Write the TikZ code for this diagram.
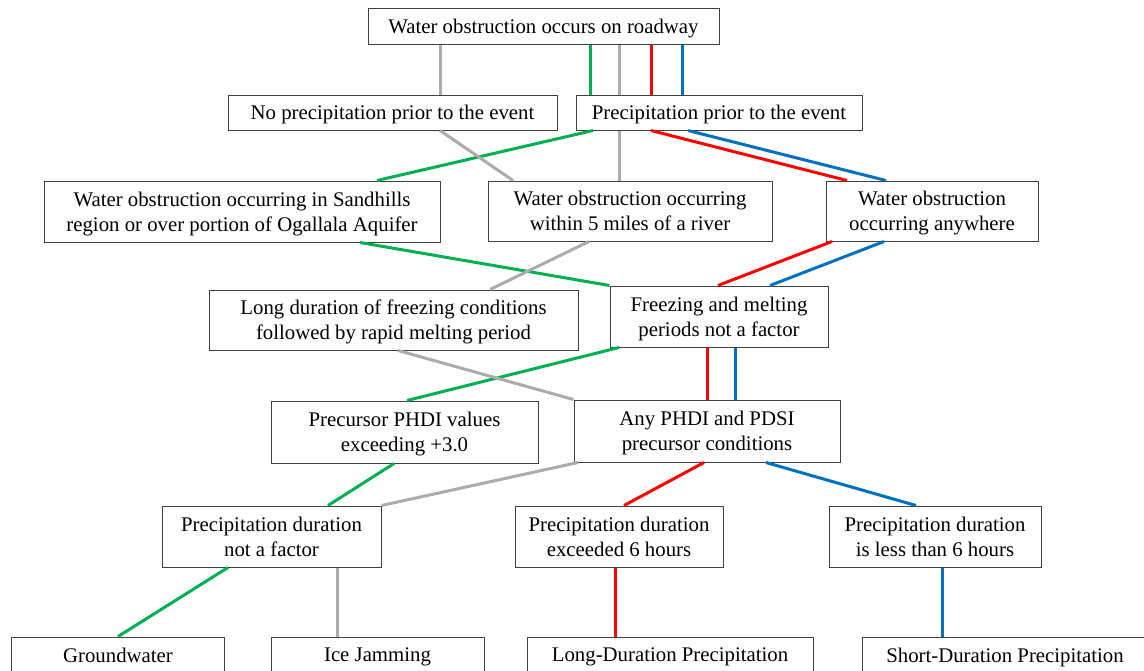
\documentclass[tikz,border=0pt]{standalone}
\usepackage{fontspec}
\setmainfont{Liberation Serif}
\newcommand\boxfont{\fontsize{20.8}{25}\selectfont}
\definecolor{lgreen}{HTML}{00B050}
\definecolor{lgray}{HTML}{ABABAB}
\definecolor{lred}{HTML}{FF0000}
\definecolor{lblue}{HTML}{0070C0}
\definecolor{boxc}{HTML}{404040}
\tikzset{
  box/.style={draw=boxc, line width=1pt, fill=white, inner sep=0pt, align=center, font=\boxfont, text=black, text depth=0pt},
  gl/.style={lgreen, line width=3pt},
  yl/.style={lgray, line width=3pt},
  rl/.style={lred, line width=3pt},
  bl/.style={lblue, line width=3pt}
}
\begin{document}
\begin{tikzpicture}[x=1pt,y=-1pt]
\useasboundingbox (0,0) rectangle (1144,670);
\clip (0,0) rectangle (1144,670);
\node[box, minimum width=351pt, minimum height=36pt] (A) at (543.5,26) {Water obstruction occurs on roadway};
\node[box, minimum width=329pt, minimum height=35pt] (B) at (392.5,112.5) {No precipitation prior to the event};
\node[box, minimum width=286pt, minimum height=35pt] (C) at (719,112.5) {Precipitation prior to the event};
\node[box, minimum width=396pt, minimum height=61pt] (D) at (242,211.5) {Water obstruction occurring in Sandhills\\region or over portion of Ogallala Aquifer};
\node[box, minimum width=284pt, minimum height=60pt] (E) at (630,211) {Water obstruction occurring\\within 5 miles of a river};
\node[box, minimum width=212pt, minimum height=60pt] (F) at (932,211) {Water obstruction\\occurring anywhere};
\node[box, minimum width=369pt, minimum height=60pt] (G) at (393.5,320) {Long duration of freezing conditions\\followed by rapid melting period};
\node[box, minimum width=218pt, minimum height=61pt] (H) at (719,316.5) {Freezing and melting\\periods not a factor};
\node[box, minimum width=267pt, minimum height=62pt] (I) at (404.5,432) {Precursor PHDI values\\exceeding +3.0};
\node[box, minimum width=266pt, minimum height=62pt] (J) at (707,431) {Any PHDI and PDSI\\precursor conditions};
\node[box, minimum width=219pt, minimum height=61pt] (K) at (271.5,536.5) {Precipitation duration\\not a factor};
\node[box, minimum width=208pt, minimum height=61pt] (L) at (619,536.5) {Precipitation duration\\exceeded 6 hours};
\node[box, minimum width=212pt, minimum height=61pt] (M) at (935,536.5) {Precipitation duration\\is less than 6 hours};
\node[box, minimum width=213pt, minimum height=36pt] (N) at (118,655) {Groundwater};
\node[box, minimum width=213pt, minimum height=36pt] (O) at (377.5,655) {Ice Jamming};
\node[box, minimum width=286pt, minimum height=36pt] (P) at (670,655) {Long-Duration Precipitation};
\node[box, minimum width=286pt, minimum height=36pt] (Q) at (1005,655) {Short-Duration Precipitation};
% connectors
\draw[yl] (A.south -| 440,0) -- (B.north -| 440,0);
\draw[gl] (A.south -| 590,0) -- (C.north -| 590,0);
\draw[yl] (A.south -| 619,0) -- (C.north -| 619,0);
\draw[rl] (A.south -| 651,0) -- (C.north -| 651,0);
\draw[bl] (A.south -| 682,0) -- (C.north -| 682,0);
\draw[gl] (C.south -| 593,0) -- (D.north -| 377,0);
\draw[yl] (B.south -| 440,0) -- (E.north -| 513,0);
\draw[yl] (C.south -| 619,0) -- (E.north -| 619,0);
\draw[rl] (C.south -| 651,0) -- (F.north -| 847,0);
\draw[bl] (C.south -| 688,0) -- (F.north -| 886,0);
\draw[gl] (D.south -| 360,0) -- (H.north west);
\draw[yl] (E.south -| 589,0) -- (G.north -| 490,0);
\draw[rl] (F.south -| 832,0) -- (H.north -| 718,0);
\draw[bl] (F.south -| 884,0) -- (H.north -| 770,0);
\draw[gl] (H.south -| 619,0) -- (I.north -| 407,0);
\draw[yl] (G.south -| 398,0) -- (J.north west);
\draw[rl] (H.south -| 707,0) -- (J.north -| 707,0);
\draw[bl] (H.south -| 735,0) -- (J.north -| 735,0);
\draw[gl] (I.south -| 394,0) -- (K.north -| 328,0);
\draw[yl] (J.south -| 578,0) -- (K.north east);
\draw[rl] (J.south -| 704,0) -- (L.north -| 624,0);
\draw[bl] (J.south -| 766,0) -- (M.north -| 916,0);
\draw[gl] (K.south -| 228,0) -- (N.north -| 118,0);
\draw[yl] (K.south -| 337,0) -- (O.north -| 337,0);
\draw[rl] (L.south -| 615,0) -- (P.north -| 615,0);
\draw[bl] (M.south -| 942,0) -- (Q.north -| 942,0);
\end{tikzpicture}
\end{document}
